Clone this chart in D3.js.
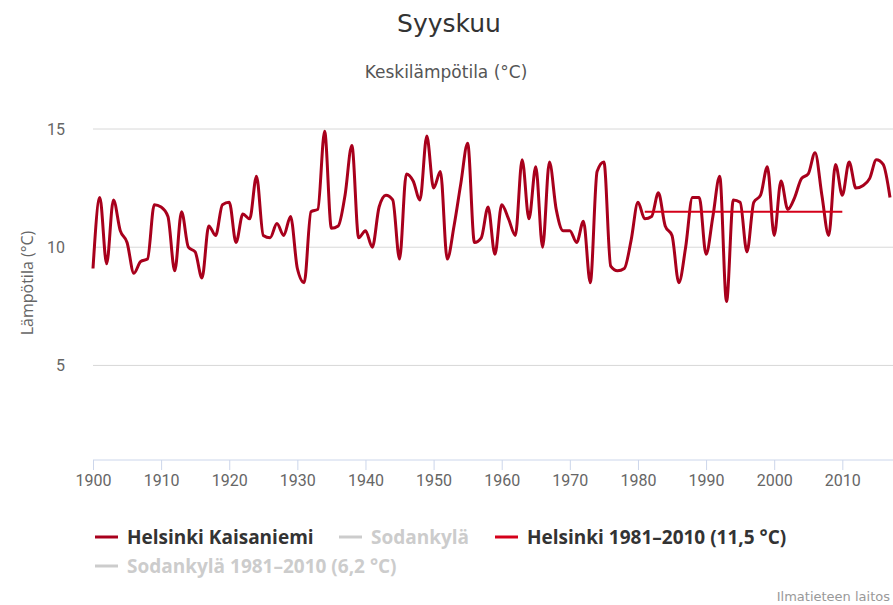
<!DOCTYPE html>
<html>
<script src="https://cdn.jsdelivr.net/npm/d3@7/dist/d3.min.js"></script>
<style>
  body, html { margin: 0; padding: 0; background: #fff; }
  svg { display: block; }
  .tick text { font-family: "Roboto", sans-serif; }
</style>
<body>
<svg width="893" height="605"></svg>
<script>

// September mean temperature, Helsinki Kaisaniemi, 1900-2017
var years = d3.range(1900, 2018);
var helsinki = [
  9.1, 12.1, 9.3, 12.0, 10.7, 10.2, 8.9, 9.4, 9.5, 11.8,
  11.7, 11.3, 9.0, 11.5, 10.0, 9.8, 8.7, 10.9, 10.5, 11.8,
  11.9, 10.2, 11.4, 11.2, 13.0, 10.5, 10.4, 11.0, 10.5, 11.3,
  9.1, 8.5, 11.5, 11.6, 14.9, 10.8, 10.9, 12.2, 14.3, 10.4,
  10.7, 10.0, 11.7, 12.2, 12.0, 9.5, 13.1, 12.8, 12.0, 14.7,
  12.5, 13.2, 9.5, 10.9, 12.7, 14.4, 10.2, 10.4, 11.7, 9.7,
  11.8, 11.2, 10.5, 13.7, 11.2, 13.4, 10.0, 13.6, 11.6, 10.7,
  10.7, 10.2, 11.1, 8.5, 13.2, 13.6, 9.2, 9.0, 9.1, 10.3,
  11.9, 11.2, 11.3, 12.3, 10.9, 10.5, 8.5, 10.0, 12.1, 12.1,
  9.7, 11.3, 13.0, 7.7, 12.0, 11.9, 9.8, 11.9, 12.2, 13.4,
  10.5, 12.8, 11.6, 12.1, 12.9, 13.1, 14.0, 12.2, 10.5, 13.5,
  12.2, 13.6, 12.5, 12.6, 12.9, 13.7, 13.5, 12.1
];
var normalYears = [1981, 2010];
var normalValue = 11.5;

var yTicks = [5, 10, 15];
var xTicks = d3.range(1900, 2011, 10);

var legendItems = [
  { name: 'Helsinki Kaisaniemi', visible: true },
  { name: 'Sodankylä', visible: false },
  { name: 'Helsinki 1981–2010 (11,5 °C)', visible: true },
  { name: 'Sodankylä 1981–2010 (6,2 °C)', visible: false }
];

var svg = d3.select('svg');

var x = d3.scaleLinear().domain([1900, 2017]).range([93, 890]);
var y = d3.scaleLinear().domain([1, 15]).range([460, 129]);

// titles
svg.append('text')
  .attr('x', 449).attr('y', 32)
  .attr('text-anchor', 'middle')
  .style('font-family', '"DejaVu Sans", sans-serif')
  .style('font-size', '25px')
  .style('fill', '#333')
  .text('Syyskuu');

svg.append('text')
  .attr('x', 446).attr('y', 78)
  .attr('text-anchor', 'middle')
  .style('font-family', '"DejaVu Sans", sans-serif')
  .style('font-size', '17px')
  .style('fill', '#555')
  .text('Keskilämpötila (°C)');

// grid
svg.append('g')
  .selectAll('line')
  .data(yTicks)
  .join('line')
  .attr('x1', 93).attr('x2', 893)
  .attr('y1', d => y(d)).attr('y2', d => y(d))
  .attr('stroke', '#d8d8d8');

// y axis labels
var yAxis = d3.axisLeft(y).tickValues(yTicks).tickSize(0).tickPadding(28);
svg.append('g')
  .attr('transform', 'translate(93,0)')
  .call(yAxis)
  .call(g => g.select('.domain').remove())
  .call(g => g.selectAll('text').style('font-size', '16px').style('fill', '#666'));

svg.append('text')
  .attr('transform', 'translate(33,283) rotate(-90)')
  .attr('text-anchor', 'middle')
  .style('font-family', '"Open Sans", sans-serif')
  .style('font-size', '16px')
  .style('fill', '#666')
  .text('Lämpötila (°C)');

// x axis
var xAxis = d3.axisBottom(x).tickValues(xTicks).tickFormat(d3.format('d')).tickSize(10).tickPadding(5);
svg.append('g')
  .attr('transform', 'translate(0,460)')
  .call(xAxis)
  .call(g => g.select('.domain').attr('d', 'M93,0H893').attr('stroke', '#ccd6eb'))
  .call(g => g.selectAll('.tick line').attr('stroke', '#ccd6eb'))
  .call(g => g.selectAll('text').style('font-size', '16px').style('fill', '#666'));

// series
var line = d3.line()
  .x((d, i) => x(years[i]))
  .y(d => y(d))
  .curve(d3.curveMonotoneX);

svg.append('path')
  .datum(helsinki)
  .attr('d', line)
  .attr('fill', 'none')
  .attr('stroke', '#a8001c')
  .attr('stroke-width', 3)
  .attr('stroke-linejoin', 'round');

svg.append('line')
  .attr('x1', x(normalYears[0])).attr('x2', x(normalYears[1]))
  .attr('y1', y(normalValue)).attr('y2', y(normalValue))
  .attr('stroke', '#d4001a')
  .attr('stroke-width', 2);

// legend
var legendPos = [[95, 537], [339, 537], [495, 537], [95, 566]];
var lg = svg.append('g')
  .selectAll('g')
  .data(legendItems)
  .join('g')
  .attr('transform', (d, i) => 'translate(' + legendPos[i][0] + ',' + legendPos[i][1] + ')');

lg.append('line')
  .attr('x1', 0).attr('x2', 23)
  .attr('stroke', (d, i) => d.visible ? (i === 0 ? '#a8001c' : '#d4001a') : '#ccc')
  .attr('stroke-width', 3);

lg.append('text')
  .attr('x', 32).attr('dy', '0.35em')
  .style('font-family', '"Open Sans", sans-serif')
  .style('font-size', '19px')
  .style('font-weight', 'bold')
  .style('fill', d => d.visible ? '#333' : '#ccc')
  .text(d => d.name);

// credits
svg.append('text')
  .attr('x', 890).attr('y', 601)
  .attr('text-anchor', 'end')
  .style('font-family', '"DejaVu Sans", sans-serif')
  .style('font-size', '13px')
  .style('fill', '#999')
  .text('Ilmatieteen laitos');

</script>
</body>
</html>
